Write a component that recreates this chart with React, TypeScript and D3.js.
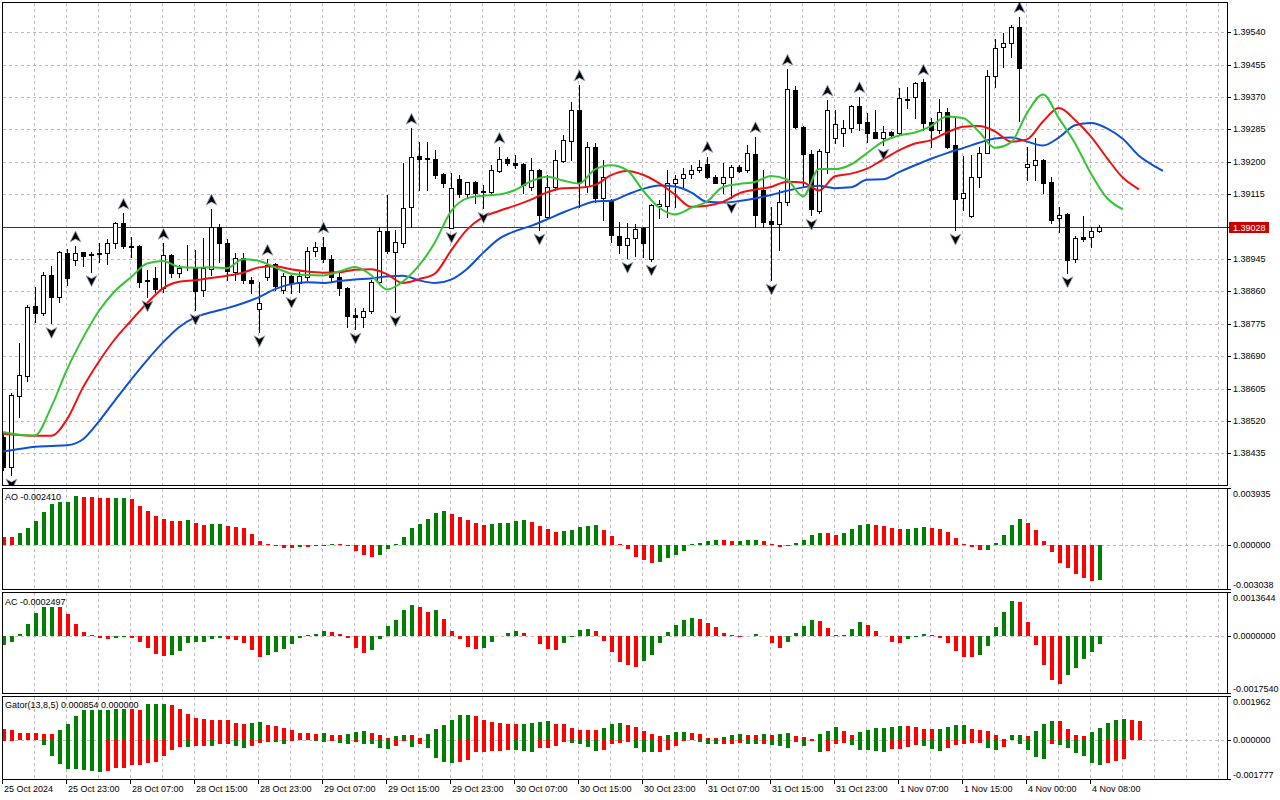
import React from 'react';
import * as d3 from 'd3';

// USDCAD H1, 25 Oct 2024 15:00 .. 4 Nov 2024 09:00 (138 bars)
const timeLabels = [
  '25 Oct 2024', '25 Oct 23:00', '28 Oct 07:00', '28 Oct 15:00', '28 Oct 23:00', '29 Oct 07:00',
  '29 Oct 15:00', '29 Oct 23:00', '30 Oct 07:00', '30 Oct 15:00', '30 Oct 23:00', '31 Oct 07:00',
  '31 Oct 15:00', '31 Oct 23:00', '1 Nov 07:00', '1 Nov 15:00', '4 Nov 00:00', '4 Nov 08:00',
];
const labelEvery = 8;

const priceTicks = [
  1.3954, 1.39455, 1.3937, 1.39285, 1.392, 1.39115, 1.3903,
  1.38945, 1.3886, 1.38775, 1.3869, 1.38605, 1.3852, 1.38435,
];
const lastPrice = 1.39028;

const open = [
  1.38479, 1.38398, 1.38586, 1.38639, 1.38822, 1.38804, 1.38903, 1.38846, 1.3896, 1.38942,
  1.38963, 1.38958, 1.38958, 1.3896, 1.38986, 1.39039, 1.38979, 1.38979, 1.3889, 1.38894,
  1.38868, 1.38955, 1.38907, 1.38923, 1.38923, 1.38864, 1.38918, 1.39028, 1.38986, 1.38912,
  1.38947, 1.3889, 1.38813, 1.38897, 1.38932, 1.38864, 1.389, 1.38881, 1.38899, 1.38967,
  1.38977, 1.38944, 1.38897, 1.38868, 1.38798, 1.38792, 1.38809, 1.38885, 1.39019, 1.38964,
  1.38988, 1.39081, 1.39215, 1.39209, 1.39207, 1.39168, 1.39027, 1.39155, 1.39115, 1.39146,
  1.39121, 1.39122, 1.39177, 1.39207, 1.39198, 1.39194, 1.39135, 1.39179, 1.39056, 1.39135,
  1.39203, 1.39256, 1.39336, 1.39137, 1.39238, 1.39104, 1.391, 1.39005, 1.38982, 1.38999,
  1.39027, 1.38944, 1.39084, 1.39084, 1.39145, 1.39157, 1.39168, 1.39179, 1.39194, 1.39159,
  1.39145, 1.39159, 1.39187, 1.39179, 1.3922, 1.39126, 1.39046, 1.39037, 1.39095, 1.39389,
  1.39292, 1.39221, 1.39072, 1.39225, 1.39262, 1.39277, 1.39288, 1.39347, 1.39304, 1.39278,
  1.39263, 1.39278, 1.39275, 1.39365, 1.39369, 1.39409, 1.39304, 1.39284, 1.3933, 1.39244,
  1.39104, 1.39059, 1.39159, 1.39224, 1.39424, 1.39501, 1.39511, 1.39555, 1.39186, 1.39193,
  1.39205, 1.39148, 1.39052, 1.39063, 1.38945, 1.39002, 1.39002, 1.39018,
];
const high = [
  1.38491, 1.38593, 1.38724, 1.38824, 1.38872, 1.38912, 1.38927, 1.38967, 1.38971, 1.38979,
  1.38963, 1.38964, 1.38988, 1.38997, 1.39043, 1.39065, 1.39003, 1.38981, 1.38916, 1.38925,
  1.38986, 1.38958, 1.38929, 1.38982, 1.38969, 1.38999, 1.39076, 1.39037, 1.38997, 1.38962,
  1.3896, 1.38899, 1.38885, 1.38944, 1.38934, 1.38907, 1.38903, 1.38912, 1.38977, 1.3899,
  1.39003, 1.38955, 1.38907, 1.38872, 1.38816, 1.38816, 1.3889, 1.3903, 1.39113, 1.39021,
  1.39196, 1.39288, 1.39253, 1.39253, 1.39231, 1.3917, 1.3917, 1.39165, 1.39148, 1.3915,
  1.39139, 1.39192, 1.39238, 1.39214, 1.39218, 1.39197, 1.39209, 1.39181, 1.39165, 1.39231,
  1.3927, 1.39358, 1.39402, 1.39253, 1.39249, 1.39205, 1.39102, 1.39043, 1.39039, 1.39037,
  1.3903, 1.39089, 1.391, 1.39179, 1.39165, 1.39183, 1.39192, 1.39205, 1.39214, 1.39165,
  1.39196, 1.39192, 1.39192, 1.39244, 1.39266, 1.39179, 1.39082, 1.39126, 1.39443, 1.39399,
  1.39294, 1.39231, 1.39233, 1.39362, 1.39336, 1.3931, 1.39349, 1.39371, 1.39327, 1.39336,
  1.39294, 1.39281, 1.39393, 1.39396, 1.3941, 1.39417, 1.39314, 1.39364, 1.39341, 1.39319,
  1.39215, 1.39218, 1.3924, 1.39441, 1.39522, 1.39537, 1.39559, 1.39581, 1.3924, 1.39262,
  1.39207, 1.39161, 1.39082, 1.39066, 1.39005, 1.39058, 1.3903, 1.39034,
];
const low = [
  1.38391, 1.38378, 1.38529, 1.38625, 1.3878, 1.38798, 1.38776, 1.38833, 1.38877, 1.38929,
  1.38927, 1.38912, 1.38938, 1.38932, 1.38973, 1.38975, 1.38951, 1.38872, 1.38846, 1.38859,
  1.38859, 1.38899, 1.38899, 1.38916, 1.38811, 1.38848, 1.38903, 1.38938, 1.3889, 1.3889,
  1.38881, 1.38856, 1.38754, 1.3889, 1.38864, 1.38856, 1.38855, 1.38859, 1.3889, 1.38953,
  1.38938, 1.38885, 1.3885, 1.38767, 1.38761, 1.38767, 1.38804, 1.38881, 1.3896, 1.38807,
  1.38977, 1.3903, 1.39126, 1.39126, 1.39157, 1.39135, 1.39026, 1.39109, 1.39109, 1.39091,
  1.39078, 1.39117, 1.39174, 1.39192, 1.39183, 1.39117, 1.39126, 1.39021, 1.39049, 1.39126,
  1.392, 1.39205, 1.39082, 1.39122, 1.39095, 1.39047, 1.3899, 1.3896, 1.38947, 1.38953,
  1.38951, 1.3894, 1.39053, 1.39056, 1.39082, 1.39135, 1.39157, 1.39174, 1.39157, 1.39144,
  1.39117, 1.39104, 1.39174, 1.39174, 1.3903, 1.3903, 1.3889, 1.38969, 1.39087, 1.39289,
  1.39135, 1.3906, 1.39065, 1.3917, 1.39249, 1.39242, 1.39279, 1.39284, 1.39253, 1.39263,
  1.39244, 1.39266, 1.3927, 1.39341, 1.39314, 1.39284, 1.3924, 1.39277, 1.39236, 1.39021,
  1.39074, 1.39056, 1.39133, 1.39222, 1.39396, 1.3945, 1.39474, 1.39308, 1.39152, 1.39152,
  1.39119, 1.3904, 1.39017, 1.38909, 1.38938, 1.38993, 1.38977, 1.39017,
];
const close = [
  1.38398, 1.38588, 1.3864, 1.3882, 1.38804, 1.38903, 1.38846, 1.38964, 1.38896, 1.3896,
  1.38954, 1.38955, 1.38961, 1.38986, 1.39039, 1.3898, 1.38977, 1.38885, 1.38888, 1.38866,
  1.38955, 1.38909, 1.38921, 1.38924, 1.38862, 1.38921, 1.39028, 1.38986, 1.38914, 1.38947,
  1.3889, 1.38881, 1.3883, 1.38929, 1.38874, 1.389, 1.38881, 1.389, 1.38967, 1.38977,
  1.38944, 1.38897, 1.38868, 1.38795, 1.38792, 1.38809, 1.38885, 1.39019, 1.38967, 1.3899,
  1.39078, 1.39214, 1.39208, 1.39207, 1.39165, 1.39145, 1.39131, 1.39115, 1.39146, 1.39119,
  1.39123, 1.39179, 1.39207, 1.39196, 1.39192, 1.39139, 1.39179, 1.3906, 1.39135, 1.39205,
  1.39257, 1.39336, 1.39148, 1.39238, 1.39104, 1.39159, 1.39008, 1.38982, 1.38999, 1.39023,
  1.38986, 1.39087, 1.39089, 1.39145, 1.39154, 1.39167, 1.39179, 1.39187, 1.39159, 1.39145,
  1.39159, 1.39187, 1.39177, 1.39222, 1.3906, 1.39043, 1.39037, 1.39095, 1.3939, 1.39291,
  1.3922, 1.39076, 1.39228, 1.39336, 1.39299, 1.3929, 1.39347, 1.39303, 1.39277, 1.39263,
  1.39278, 1.3927, 1.39367, 1.39363, 1.39406, 1.39303, 1.39284, 1.3933, 1.3924, 1.39102,
  1.39117, 1.39159, 1.39224, 1.39425, 1.39498, 1.39511, 1.39555, 1.39447, 1.39194, 1.39205,
  1.39144, 1.39047, 1.3906, 1.38942, 1.38999, 1.38997, 1.39018, 1.39028,
];

// fractal bars (index into the candle arrays)
const upFractals = [9, 15, 20, 26, 33, 40, 51, 62, 72, 88, 94, 98, 103, 107, 115, 127];
const downFractals = [1, 6, 11, 18, 24, 32, 36, 44, 49, 56, 60, 67, 78, 81, 91, 96, 101, 110, 119, 133];

// Alligator, read every 2nd bar (already shifted forward as drawn)
const lineStep = 2;
const jaw = [
  1.3844, 1.38446, 1.38452, 1.38454, 1.38456, 1.38472, 1.38519, 1.38574, 1.38628, 1.38679,
  1.38726, 1.38766, 1.38792, 1.38805, 1.38816, 1.38829, 1.38845, 1.38866, 1.38879, 1.38884,
  1.38882, 1.38887, 1.38891, 1.38894, 1.38899, 1.38901, 1.38889, 1.38882, 1.38891, 1.38919,
  1.38961, 1.38998, 1.39018, 1.39032, 1.39049, 1.39067, 1.39083, 1.39096, 1.39098, 1.39114,
  1.39129, 1.39138, 1.39135, 1.3912, 1.39095, 1.39093, 1.39097, 1.39104, 1.39113, 1.39124,
  1.39133, 1.39137, 1.39131, 1.39133, 1.39153, 1.39154, 1.39173, 1.39191, 1.39208, 1.39223,
  1.39236, 1.3925, 1.39261, 1.39264, 1.39253, 1.39243, 1.39264, 1.39296, 1.39302, 1.39288,
  1.3926, 1.39216, 1.39188,
];
const jawTail = { bar: 145, value: 1.39176 };
const teeth = [
  1.38486, 1.38483, 1.38481, 1.38481, 1.38524, 1.38608, 1.38676, 1.38735, 1.38783, 1.38829,
  1.38868, 1.38885, 1.38889, 1.38895, 1.38901, 1.38909, 1.38923, 1.38926, 1.38918, 1.38912,
  1.38909, 1.3891, 1.38917, 1.38918, 1.38905, 1.38882, 1.38892, 1.38907, 1.38967, 1.39022,
  1.39055, 1.39071, 1.39085, 1.39101, 1.3912, 1.39131, 1.39132, 1.39139, 1.39165, 1.39176,
  1.39166, 1.39144, 1.39114, 1.39082, 1.39085, 1.39095, 1.39117, 1.39127, 1.39134, 1.39148,
  1.39146, 1.39125, 1.39162, 1.39169, 1.39182, 1.39206, 1.3923, 1.39248, 1.39257, 1.39277,
  1.39292, 1.39294, 1.3928, 1.39253, 1.39259, 1.39306, 1.39341, 1.3931, 1.39266, 1.3921,
  1.39158, 1.39128,
];
const lips = [
  1.38491, 1.38484, 1.38482, 1.38555, 1.38655, 1.38738, 1.38809, 1.38861, 1.38897, 1.38933,
  1.3894, 1.38924, 1.38922, 1.38923, 1.38921, 1.38944, 1.3894, 1.38923, 1.38907, 1.38903,
  1.38902, 1.38912, 1.38924, 1.38903, 1.38865, 1.38886, 1.38928, 1.38989, 1.3907, 1.39104,
  1.39111, 1.39114, 1.39126, 1.39149, 1.39161, 1.39151, 1.39143, 1.3918, 1.39191, 1.39178,
  1.39125, 1.3908, 1.39062, 1.39079, 1.39096, 1.39134, 1.39142, 1.39147, 1.39163, 1.39154,
  1.39109, 1.39181, 1.39181, 1.39193, 1.39223, 1.39253, 1.39269, 1.39277, 1.39294, 1.39319,
  1.39315, 1.39279, 1.39237, 1.39251, 1.39328, 1.39377, 1.39314, 1.39249, 1.39169, 1.39105,
  1.39075,
];

const ao = [
  0.00057, 0.00056, 0.0008, 0.00114, 0.00169, 0.0023, 0.00285, 0.00297, 0.00299, 0.00337,
  0.00331, 0.0033, 0.00324, 0.00323, 0.00324, 0.00325, 0.00315, 0.00269, 0.00235, 0.00201,
  0.00178, 0.00169, 0.00168, 0.0017, 0.00155, 0.00139, 0.00146, 0.00147, 0.00132, 0.00125,
  0.00114, 0.00073, 0.0003, 0.00009, -0.00002, -0.00023, -0.00024, -0.00016, -0.00017, -0.00009,
  -0.00002, 0.00007, 0.00002, -0.00009, -0.00043, -0.00071, -0.00084, -0.00066, -0.0003, 0.00002,
  0.00057, 0.00114, 0.00144, 0.00178, 0.00224, 0.00235, 0.00212, 0.00194, 0.00173, 0.00155,
  0.00139, 0.00148, 0.00149, 0.00155, 0.00169, 0.0017, 0.00162, 0.00132, 0.00107, 0.00091,
  0.00098, 0.00105, 0.00125, 0.00132, 0.00139, 0.00105, 0.00064, 0.00007, -0.0003, -0.0008,
  -0.00107, -0.00125, -0.00114, -0.00091, -0.00066, -0.00039, 0.00001, 0.00014, 0.0003, 0.00036,
  0.00035, 0.0003, 0.00031, 0.00032, 0.00036, 0.0003, 0.00003, -0.00016, -0.00009, 0.00014,
  0.00036, 0.00071, 0.00082, 0.00081, 0.00071, 0.00082, 0.00109, 0.00139, 0.00144, 0.00139,
  0.00132, 0.00119, 0.00112, 0.00113, 0.00119, 0.00125, 0.00119, 0.00112, 0.00091, 0.0005,
  0.00007, -0.00016, -0.00037, -0.00036, 0.00014, 0.00071, 0.00139, 0.00178, 0.00153, 0.00105,
  0.0003, -0.0005, -0.00125, -0.0016, -0.00201, -0.00228, -0.00246, -0.00241,
];
const ac = [
  -0.00026, -0.00018, 0.00007, 0.00038, 0.00073, 0.0009, 0.00091, 0.00089, 0.0007, 0.00038,
  0.00014, 0.00002, -0.00005, -0.00008, -0.00005, -0.00002, -0.00005, -0.00018, -0.00036, -0.00055,
  -0.00062, -0.00059, -0.00047, -0.00021, -0.00019, -0.00017, -0.0001, -0.00005, -0.0001, -0.00011,
  -0.00021, -0.00044, -0.00064, -0.00059, -0.00049, -0.00041, -0.00024, -0.00005, 0.00001, 0.00008,
  0.00016, 0.00014, 0.00008, -0.00007, -0.00036, -0.00052, -0.00044, -0.0001, 0.00031, 0.0005,
  0.00081, 0.00097, 0.0009, 0.00075, 0.00081, 0.00053, 0.00015, -0.0001, -0.00033, -0.00041,
  -0.00035, -0.00018, 0.0, 0.00009, 0.00016, 0.00009, 0.0, -0.00024, -0.00041, -0.00042,
  -0.00021, -0.00002, 0.00019, 0.00023, 0.00016, -0.00014, -0.00049, -0.0008, -0.0009, -0.00094,
  -0.00078, -0.00059, -0.00021, 0.00012, 0.00034, 0.0005, 0.00056, 0.00053, 0.00041, 0.00028,
  0.00009, 0.00001, -0.00001, 0.0, 0.00006, 0.0, -0.00022, -0.00036, -0.00018, 0.00009,
  0.00031, 0.0005, 0.00047, 0.00025, 0.00003, 0.00002, 0.00022, 0.00044, 0.00034, 0.00016,
  0.0, -0.00018, -0.00021, -0.00008, -0.00002, 0.00006, 0.00003, -0.00005, -0.00021, -0.00046,
  -0.00064, -0.00065, -0.00058, -0.0003, 0.00028, 0.00075, 0.00109, 0.00106, 0.00044, -0.00027,
  -0.00089, -0.00136, -0.00149, -0.00121, -0.00099, -0.00071, -0.00049, -0.00024,
];
const gatorUpper = [
  0.00049, 0.00042, 0.0003, 0.00029, 0.00028, 0.00024, 0.00023, 0.00042, 0.00069, 0.00106,
  0.00132, 0.00133, 0.00134, 0.00135, 0.00136, 0.00137, 0.00136, 0.00135, 0.00158, 0.00159,
  0.0016, 0.00154, 0.00139, 0.00117, 0.00097, 0.00094, 0.0009, 0.00087, 0.00086, 0.00076,
  0.00072, 0.00075, 0.00081, 0.00066, 0.0006, 0.00052, 0.00042, 0.0003, 0.00029, 0.00024,
  0.0003, 0.00021, 0.0002, 0.00025, 0.00033, 0.00037, 0.00028, 0.00021, 0.00009, 0.00016,
  0.00021, 0.00019, 0.00009, 0.00025, 0.00046, 0.00066, 0.0009, 0.00109, 0.0011, 0.00105,
  0.0009, 0.00079, 0.00073, 0.00072, 0.00071, 0.00072, 0.00073, 0.00081, 0.00082, 0.00072,
  0.00069, 0.00052, 0.00045, 0.00042, 0.00041, 0.00052, 0.0007, 0.00073, 0.00064, 0.00055,
  0.00037, 0.00025, 0.00015, 0.00021, 0.00033, 0.00034, 0.00031, 0.00025, 0.00009, 0.00005,
  0.00012, 0.00021, 0.00024, 0.00022, 0.00021, 0.00024, 0.00021, 0.00027, 0.00031, 0.00018,
  0.00012, 0.00004, 0.00025, 0.00037, 0.00055, 0.00037, 0.00022, 0.00033, 0.00042, 0.00052,
  0.00054, 0.00058, 0.0006, 0.00059, 0.00057, 0.00049, 0.00046, 0.00048, 0.00057, 0.00064,
  0.00065, 0.00049, 0.00045, 0.00037, 0.00019, 0.00004, 0.00019, 0.00021, 0.00015, 0.00037,
  0.0007, 0.00085, 0.00084, 0.00049, 0.00019, 0.00016, 0.00033, 0.00052, 0.00075, 0.00088,
  0.00094, 0.0009, 0.000854,
];
const gatorLower = [
  0.00004, 0.00003, 0.00002, 0.00001, 0.00002, 0.00025, 0.00073, 0.00108, 0.00133, 0.00134,
  0.00138, 0.00141, 0.00147, 0.00141, 0.0013, 0.00126, 0.00115, 0.00114, 0.00105, 0.001,
  0.00073, 0.00048, 0.00033, 0.00034, 0.0003, 0.00029, 0.0003, 0.00021, 0.00018, 0.00028,
  0.00036, 0.00028, 0.00015, 0.0001, 0.00011, 0.00019, 0.00003, 0.00002, 0.00001, 0.00004,
  0.0001, 0.00003, 0.00015, 0.00021, 0.0001, 0.00018, 0.00021, 0.00036, 0.00043, 0.00028,
  0.00005, 0.00033, 0.00021, 0.0004, 0.00082, 0.001, 0.00105, 0.001, 0.00093, 0.00057,
  0.00055, 0.00051, 0.0005, 0.00045, 0.00048, 0.00052, 0.00055, 0.0004, 0.00039, 0.00028,
  0.00013, 0.00014, 0.0002, 0.00033, 0.00051, 0.00045, 0.00022, 0.00015, 0.0001, 0.00037,
  0.00055, 0.00056, 0.00054, 0.00045, 0.0003, 0.00003, 0.00002, 0.0001, 0.00021, 0.00022,
  0.00021, 0.00018, 0.00015, 0.00018, 0.00022, 0.00018, 0.00025, 0.00028, 0.00036, 0.00012,
  0.0003, 0.00005, 0.00058, 0.00051, 0.00018, 0.00015, 0.00025, 0.00048, 0.00049, 0.00052,
  0.00055, 0.00043, 0.00042, 0.00033, 0.00025, 0.00028, 0.00043, 0.00051, 0.0004, 0.00025,
  0.00021, 0.00015, 0.00014, 0.00037, 0.00048, 0.00033, 0.00002, 0.00018, 0.00048, 0.00078,
  0.00088, 0.00018, 0.00025, 0.00036, 0.0006, 0.00073, 0.00105, 0.00115, 0.00105, 0.00097,
  0.00088,
];

const FONT = '"Liberation Sans", Arial, sans-serif';
const GRID = '#c4b4c6';
const GREEN = '#008000';
const RED = '#ff0000';
const L = 2;
const R = 1227;
const main = { top: 2, bottom: 485 };
const aoPanel = { top: 488, bottom: 589 };
const acPanel = { top: 592, bottom: 693 };
const gtPanel = { top: 696, bottom: 779 };

const x = d3.scaleLinear().domain([0, 137]).range([3, 1099]);
const yMain = d3.scaleLinear().domain([1.38435, 1.3954]).range([453.3, 32.3]);
const yAO = d3.scaleLinear().domain([-0.003038, 0.003935]).range([aoPanel.bottom, aoPanel.top]);
const yAC = d3.scaleLinear().domain([-0.001754, 0.0013644]).range([acPanel.bottom, acPanel.top]);
const yGT = d3.scaleLinear().domain([-0.001777, 0.001962]).range([gtPanel.bottom, gtPanel.top]);

const gridBars = d3.range(4, 156, 4).filter((i) => x(i) - 1 < R);

const colorOf = (vals: number[], i: number, first: string, abs = false) => {
  if (i === 0) return first;
  const a = abs ? Math.abs(vals[i]) : vals[i];
  const b = abs ? Math.abs(vals[i - 1]) : vals[i - 1];
  return a > b ? GREEN : RED;
};

const Histogram: React.FC<{
  vals: number[]; y: d3.ScaleLinear<number, number>; first: string; sign?: number; abs?: boolean;
}> = ({ vals, y, first, sign = 1, abs = false }) => {
  const y0 = Math.round(y(0));
  return (
    <g shapeRendering="crispEdges">
      {vals.map((v, i) => {
        const yv = y(sign * v);
        const h = Math.round(Math.abs(yv - y0));
        if (Math.abs(v) < 1e-9) return null;
        const top = yv < y0 ? y0 - Math.max(1, h) : y0;
        return (
          <rect key={i} x={Math.round(x(i)) - 1} y={top} width={4} height={Math.max(1, h)}
            fill={colorOf(vals, i, first, abs)} />
        );
      })}
    </g>
  );
};

const PanelFrame: React.FC<{ top: number; bottom: number }> = ({ top, bottom }) => (
  <g shapeRendering="crispEdges">
    {gridBars.map((i) => (
      <line key={i} x1={x(i) - 0.5} x2={x(i) - 0.5} y1={top + 1} y2={bottom} stroke={GRID}
        strokeDasharray="3,3" />
    ))}
    <rect x={L + 0.5} y={top + 0.5} width={R - L} height={bottom - top} fill="none" stroke="#000" />
  </g>
);

const SubAxis: React.FC<{ top: number; bottom: number; zero: number; labels: string[] }> = ({
  top, bottom, zero, labels,
}) => (
  <g fontFamily={FONT} fontSize={9}>
    <g shapeRendering="crispEdges" stroke="#000">
      <line x1={R} x2={R + 4} y1={top + 0.5} y2={top + 0.5} />
      <line x1={R} x2={R + 4} y1={Math.round(zero) + 0.5} y2={Math.round(zero) + 0.5} />
      <line x1={R} x2={R + 4} y1={bottom + 0.5} y2={bottom + 0.5} />
    </g>
    <text x={1233} y={top + 5.5} dominantBaseline="central">{labels[0]}</text>
    <text x={1233} y={zero} dominantBaseline="central">{labels[1]}</text>
    <text x={1233} y={bottom - 4.5} dominantBaseline="central">{labels[2]}</text>
  </g>
);

const App: React.FC = () => {
  const lineOf = d3.line<[number, number]>().x((d) => d[0]).y((d) => d[1]).curve(d3.curveMonotoneX);
  const pts = (arr: number[]) => arr.map((v, j) => [x(j * lineStep), yMain(v)] as [number, number]);
  const jawPts = [...pts(jaw), [x(jawTail.bar), yMain(jawTail.value)] as [number, number]];

  const upArrow = 'M0,-6 L5.5,5 L0,2 L-5.5,5 Z';
  const downArrow = 'M0,6 L5.5,-5 L0,-2 L-5.5,-5 Z';

  return (
    <svg width={1280} height={800} style={{ position: 'fixed', left: 0, top: 0, background: '#fff' }}>
      <defs>
        <clipPath id="clipMain"><rect x={L + 1} y={main.top + 1} width={R - L - 1} height={main.bottom - main.top - 1} /></clipPath>
        <clipPath id="clipAO"><rect x={L + 1} y={aoPanel.top + 1} width={R - L - 1} height={aoPanel.bottom - aoPanel.top - 1} /></clipPath>
        <clipPath id="clipAC"><rect x={L + 1} y={acPanel.top + 1} width={R - L - 1} height={acPanel.bottom - acPanel.top - 1} /></clipPath>
        <clipPath id="clipGT"><rect x={L + 1} y={gtPanel.top + 1} width={R - L - 1} height={gtPanel.bottom - gtPanel.top - 1} /></clipPath>
      </defs>
      <rect width={1280} height={800} fill="#fff" />

      {/* main price window */}
      <g shapeRendering="crispEdges">
        {priceTicks.map((p) => (
          <line key={p} x1={L + 1} x2={R} y1={Math.round(yMain(p)) + 0.5} y2={Math.round(yMain(p)) + 0.5}
            stroke={GRID} strokeDasharray="3,3" />
        ))}
      </g>
      <PanelFrame top={main.top} bottom={main.bottom} />
      <g clipPath="url(#clipMain)">
        <line x1={L} x2={R} y1={Math.round(yMain(lastPrice)) + 0.5} y2={Math.round(yMain(lastPrice)) + 0.5}
          stroke="#c00000" shapeRendering="crispEdges" />
        <g shapeRendering="crispEdges">
          {open.map((o, i) => {
            const cx = Math.round(x(i));
            const c = close[i];
            const top = Math.round(yMain(Math.max(o, c)));
            const bot = Math.round(yMain(Math.min(o, c)));
            return (
              <g key={i}>
                <line x1={cx + 0.5} x2={cx + 0.5} y1={Math.round(yMain(high[i]))} y2={Math.round(yMain(low[i])) + 1} stroke="#000" />
                {bot - top < 1 ? (
                  <line x1={cx - 2} x2={cx + 3} y1={top + 0.5} y2={top + 0.5} stroke="#000" />
                ) : (
                  <rect x={cx - 1.5} y={top + 0.5} width={4} height={bot - top} fill={c >= o ? '#fff' : '#000'} stroke="#000" />
                )}
              </g>
            );
          })}
        </g>
        <path d={lineOf(jawPts) || ''} fill="none" stroke="#0d4fd8" strokeWidth={2} />
        <path d={lineOf(pts(teeth)) || ''} fill="none" stroke="#f01010" strokeWidth={2} />
        <path d={lineOf(pts(lips)) || ''} fill="none" stroke="#35c435" strokeWidth={2} />
        {upFractals.map((i) => (
          <path key={'u' + i} d={upArrow} transform={`translate(${Math.round(x(i)) + 0.5},${yMain(high[i]) - 9})`}
            fill="#000" stroke="#9aaac4" strokeWidth={0.8} />
        ))}
        {downFractals.map((i) => (
          <path key={'d' + i} d={downArrow} transform={`translate(${Math.round(x(i)) + 0.5},${yMain(low[i]) + 9})`}
            fill="#000" stroke="#9aaac4" strokeWidth={0.8} />
        ))}
      </g>
      <g fontFamily={FONT} fontSize={9}>
        {priceTicks.map((p) => (
          <g key={p}>
            <line x1={R} x2={R + 4} y1={Math.round(yMain(p)) + 0.5} y2={Math.round(yMain(p)) + 0.5} stroke="#000" shapeRendering="crispEdges" />
            {Math.abs(p - lastPrice) > 0.0002 && (
              <text x={1233} y={yMain(p)} dominantBaseline="central">{p.toFixed(5)}</text>
            )}
          </g>
        ))}
        <rect x={1229} y={Math.round(yMain(lastPrice)) - 5} width={40} height={11} fill="#cc0000" />
        <text x={1233} y={yMain(lastPrice) + 0.5} dominantBaseline="central" fill="#fff">{lastPrice.toFixed(5)}</text>
      </g>

      {/* AO */}
      <PanelFrame top={aoPanel.top} bottom={aoPanel.bottom} />
      <line x1={L + 1} x2={R} y1={Math.round(yAO(0)) + 0.5} y2={Math.round(yAO(0)) + 0.5} stroke={GRID} strokeDasharray="3,3" shapeRendering="crispEdges" />
      <g clipPath="url(#clipAO)"><Histogram vals={ao} y={yAO} first={RED} /></g>
      <text x={5} y={496.5} fontFamily={FONT} fontSize={9} dominantBaseline="central">AO -0.002410</text>
      <SubAxis top={aoPanel.top} bottom={aoPanel.bottom} zero={yAO(0)} labels={['0.003935', '0.000000', '-0.003038']} />

      {/* AC */}
      <PanelFrame top={acPanel.top} bottom={acPanel.bottom} />
      <line x1={L + 1} x2={R} y1={Math.round(yAC(0)) + 0.5} y2={Math.round(yAC(0)) + 0.5} stroke={GRID} strokeDasharray="3,3" shapeRendering="crispEdges" />
      <g clipPath="url(#clipAC)"><Histogram vals={ac} y={yAC} first={GREEN} /></g>
      <text x={5} y={601.5} fontFamily={FONT} fontSize={9} dominantBaseline="central">AC -0.0002497</text>
      <SubAxis top={acPanel.top} bottom={acPanel.bottom} zero={yAC(0)} labels={['0.0013644', '0.0000000', '-0.0017540']} />

      {/* Gator */}
      <PanelFrame top={gtPanel.top} bottom={gtPanel.bottom} />
      <line x1={L + 1} x2={R} y1={Math.round(yGT(0)) + 0.5} y2={Math.round(yGT(0)) + 0.5} stroke={GRID} strokeDasharray="3,3" shapeRendering="crispEdges" />
      <g clipPath="url(#clipGT)">
        <Histogram vals={gatorUpper} y={yGT} first={RED} />
        <Histogram vals={gatorLower} y={yGT} first={RED} sign={-1} abs />
      </g>
      <text x={5} y={705} fontFamily={FONT} fontSize={9} dominantBaseline="central">Gator(13,8,5) 0.000854 0.000000</text>
      <SubAxis top={gtPanel.top} bottom={gtPanel.bottom} zero={yGT(0)} labels={['0.001962', '0.000000', '-0.001777']} />

      {/* time axis */}
      <g fontFamily={FONT} fontSize={9}>
        {timeLabels.map((t, k) => {
          const tx = Math.round(x(k * labelEvery)) - 1;
          return (
            <g key={t}>
              <line x1={tx + 0.5} x2={tx + 0.5} y1={gtPanel.bottom} y2={gtPanel.bottom + 5} stroke="#000" shapeRendering="crispEdges" />
              <text x={tx + 2} y={788.5} dominantBaseline="central">{t}</text>
            </g>
          );
        })}
      </g>
    </svg>
  );
};

export default App;
